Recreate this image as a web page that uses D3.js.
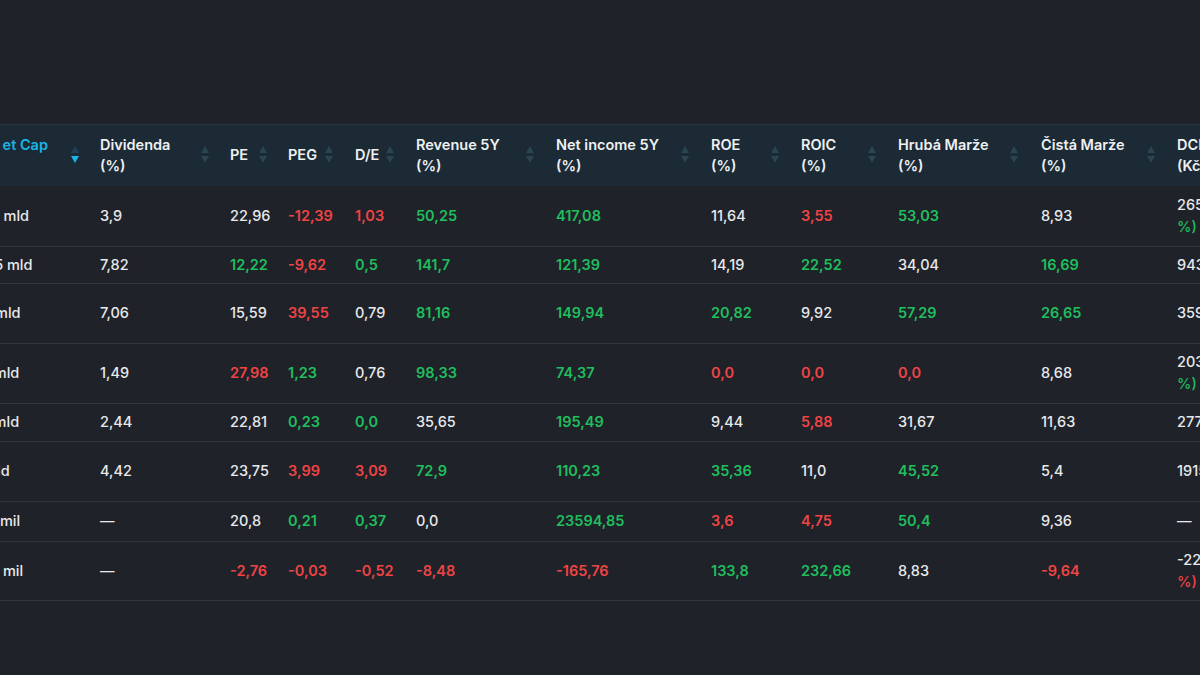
<!DOCTYPE html>
<html><head><meta charset="utf-8">
<script src="https://cdn.jsdelivr.net/npm/d3@7"></script>
<style>body{margin:0;background:#1f2229;overflow:hidden}svg{display:block}</style>
</head><body><svg id="c" width="1200" height="675"></svg>
<script>
const headers1 = ["et Cap","Dividenda","PE","PEG","D/E","Revenue 5Y","Net income 5Y","ROE","ROIC","Hrubá Marže","Čistá Marže","DCF"];
const headers2 = ["","(%)","","","","(%)","(%)","(%)","(%)","(%)","(%)","(Kč"];
const colX = [0,100,230,288,355,416,556,711,801,898,1041,1177];
const iconX = [75,205,263,329,390,530,685,775,872,1014,1151,null];
const marketCap = ["1,27 mld","2,55 mld","1,8 mld","9,1 mld","5,1 mld","7 mld","415 mil","52,1 mil"];
const dividenda = ["3,9","7,82","7,06","1,49","2,44","4,42","—","—"];
const pe = ["22,96","12,22","15,59","27,98","22,81","23,75","20,8","-2,76"];
const peg = ["-12,39","-9,62","39,55","1,23","0,23","3,99","0,21","-0,03"];
const de = ["1,03","0,5","0,79","0,76","0,0","3,09","0,37","-0,52"];
const rev5y = ["50,25","141,7","81,16","98,33","35,65","72,9","0,0","-8,48"];
const ni5y = ["417,08","121,39","149,94","74,37","195,49","110,23","23594,85","-165,76"];
const roe = ["11,64","14,19","20,82","0,0","9,44","35,36","3,6","133,8"];
const roic = ["3,55","22,52","9,92","0,0","5,88","11,0","4,75","232,66"];
const hruba = ["53,03","34,04","57,29","0,0","31,67","45,52","50,4","8,83"];
const cista = ["8,93","16,69","26,65","8,68","11,63","5,4","9,36","-9,64"];
const dcf = ["265,8 Kč (+21,4","943,2 Kč","359,7 Kč","203,1 Kč (+8,6","277,4 Kč","1915,3 Kč","—","-22,5 Kč (-112,6"];
const dcfSub = ["%)","","","%)","","","","%)"];
// status per cell: g = good (green), r = bad (red), n = neutral
const status = [
 "n n n r r g g n r g n g",
 "n n g r g g g n g n g n",
 "n n n r n g g g n g g n",
 "n n r g n g g r r r n g",
 "n n n g g n g n r n n n",
 "n n n r r g g g n g n n",
 "n n n g g n g r r g n n",
 "n n r r r r r g g n r r"].map(s=>s.split(" "));
const rowBounds = [186,246,283,343,403,441,501,541,600];

const cols = [marketCap,dividenda,pe,peg,de,rev5y,ni5y,roe,roic,hruba,cista,dcf];
const svg = d3.select("#c");
const font = "Inter, 'Noto Sans', sans-serif";
const col = {g:"#1fbf5e", r:"#ef4444", n:"#e8e9eb"};

svg.append("rect").attr("x",0).attr("y",124).attr("width",1200).attr("height",62).attr("fill","#1b2a35");
svg.append("line").attr("x1",0).attr("x2",1200).attr("y1",124.5).attr("y2",124.5).attr("stroke","#243441");

const hg = svg.append("g").attr("font-family",font).attr("font-size",14.5).attr("font-weight",600);
headers1.forEach((h,i)=>{
  const two = headers2[i] !== "" || i===0;
  const x = i===0 ? 48 : colX[i];
  const fill = i===0 ? "#1cb4e4" : "#eef0f2";
  hg.append("text").attr("x",x).attr("y",two?150:160).attr("text-anchor",i===0?"end":"start").attr("fill",fill).text(h);
  if(headers2[i] !== "") hg.append("text").attr("x",x).attr("y",171).attr("fill",fill).text(headers2[i]);
  const ix = iconX[i];
  if(ix!=null){
    const up = i===0 ? "#20405a" : "#2a4450", dn = i===0 ? "#1cb4e4" : "#2a4450";
    svg.append("path").attr("d",`M${ix-4},${153}L${ix},${146}L${ix+4},${153}Z`).attr("fill",up);
    svg.append("path").attr("d",`M${ix-4},${156}L${ix},${163}L${ix+4},${156}Z`).attr("fill",dn);
  }
});

const tg = svg.append("g").attr("font-family",font).attr("font-size",14.5);
for(let r=0;r<8;r++){
  const y0=rowBounds[r], y1=rowBounds[r+1], cy=(y0+y1)/2;
  svg.append("line").attr("x1",0).attr("x2",1200).attr("y1",y1+0.5).attr("y2",y1+0.5).attr("stroke","#30343c");
  cols.forEach((c,i)=>{
    const st = status[r][i];
    const x = i===0 ? -28 : colX[i];
    const wrap = i===11 && dcfSub[r] !== "";
    tg.append("text").attr("x",x).attr("y",wrap?cy-6:cy+5)
      .attr("fill", i===11 ? col.n : col[st]).attr("font-weight", st==="n"||i===11?500:600).text(c[r]);
    if(wrap) tg.append("text").attr("x",x).attr("y",cy+16).attr("fill",col[st]).attr("font-weight",500).text(dcfSub[r]);
  });
}
</script></body></html>
